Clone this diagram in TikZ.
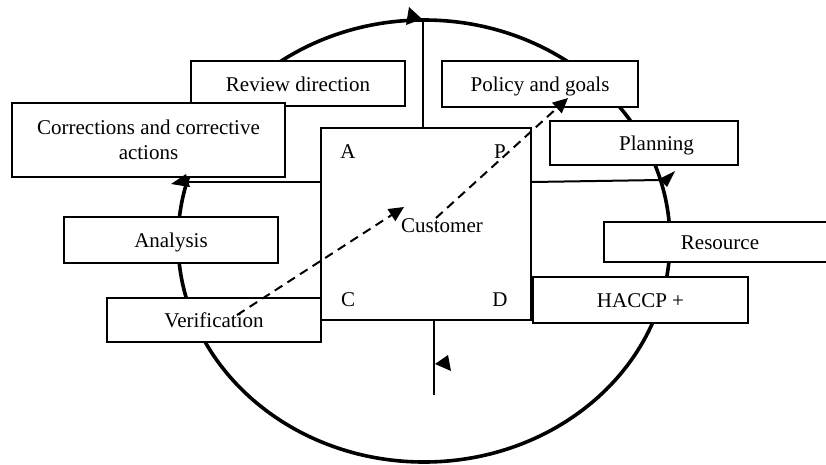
\documentclass[tikz,border=0pt]{standalone}
\usepackage{fontspec}
\setmainfont{Liberation Serif}
\usetikzlibrary{arrows.meta}
\begin{document}
\begin{tikzpicture}[x=1pt,y=-1pt,
  box/.style={draw, line width=2.4pt, fill=white, inner sep=0pt,
    font=\fontsize{21}{25}\selectfont, text height=18pt, text depth=3pt},
  lbl/.style={inner sep=0pt, font=\fontsize{21}{25}\selectfont},
  link/.style={line width=2pt},
  dashlink/.style={line width=2pt, dash pattern=on 9pt off 6pt,
    -{Triangle[length=15pt,width=14pt]}},
  head/.style={fill=black}
]
\clip (0,0) rectangle (826,464);

% outer cycle
\draw[line width=3.6pt] (424,241) ellipse [x radius=246, y radius=221];

% central PDCA square
\node[draw, line width=1.6pt, fill=white, minimum width=210pt, minimum height=192pt,
  inner sep=0pt] (sq) at (426,224) {};
\node[lbl] (la) at (348,152) {A};
\node[lbl] (lp) at (500,152) {P};
\node[lbl] (lc) at (348,300) {C};
\node[lbl] (ld) at (500,300) {D};
\node[lbl] (cust) at (442,226) {Customer};

% spokes from the square to the cycle
\coordinate (etop) at (423,20);
\coordinate (eleft) at (186,182);
\coordinate (eright) at (660,180);
\coordinate (ebot) at (434,395);
\draw[link] (sq.north -| etop) -- (etop);
\draw[link] (sq.west |- eleft) -- (eleft);
\draw[link] (sq.east |- 0,182) -- (eright);
\draw[link] (sq.south -| ebot) -- (ebot);

% step boxes
\node[box, minimum width=214pt, minimum height=45pt] (review) at (298,83.5) {Review direction};
\node[box, minimum width=196pt, minimum height=46pt] (policy) at (540,84) {Policy and goals};
\node[box, minimum width=188pt, minimum height=44pt] (plan) at (644,143) {};
\node[lbl, text height=18pt, text depth=3pt] (plantext) at (656.5,143) {Planning};
\node[box, minimum width=232pt, minimum height=40pt] (res) at (720,242) {Resource};
\node[box, minimum width=215pt, minimum height=46pt] (haccp) at (640.5,300) {HACCP +};
\node[draw, line width=2.4pt, fill=white, minimum width=273pt, minimum height=74pt,
  inner sep=0pt, align=center, font=\fontsize{21}{25}\selectfont] (corr) at (148.5,140)
  {Corrections and corrective\\actions};
\node[box, minimum width=214pt, minimum height=46pt] (anal) at (171,240) {Analysis};
\node[box, minimum width=214pt, minimum height=44pt] (verif) at (214,320) {Verification};

% arrowheads on the cycle
\fill[head] (422,19) -- (406,25) -- (409,7) -- cycle;
\fill[head] (171,184) -- (186,174) -- (190,187) -- cycle;
\fill[head] (675,171) -- (659,179) -- (667,187) -- cycle;
\fill[head] (435,364) -- (448,355) -- (451,371) -- cycle;

% dashed flows through the customer
\coordinate (d1s) at (237,315);
\coordinate (d1e) at (404,207);
\coordinate (d2s) at (436,218);
\coordinate (d2e) at (568,98);
\draw[dashlink] (d1s) -- (d1e);
\draw[dashlink] (d2s) -- (d2e);
\end{tikzpicture}
\end{document}
